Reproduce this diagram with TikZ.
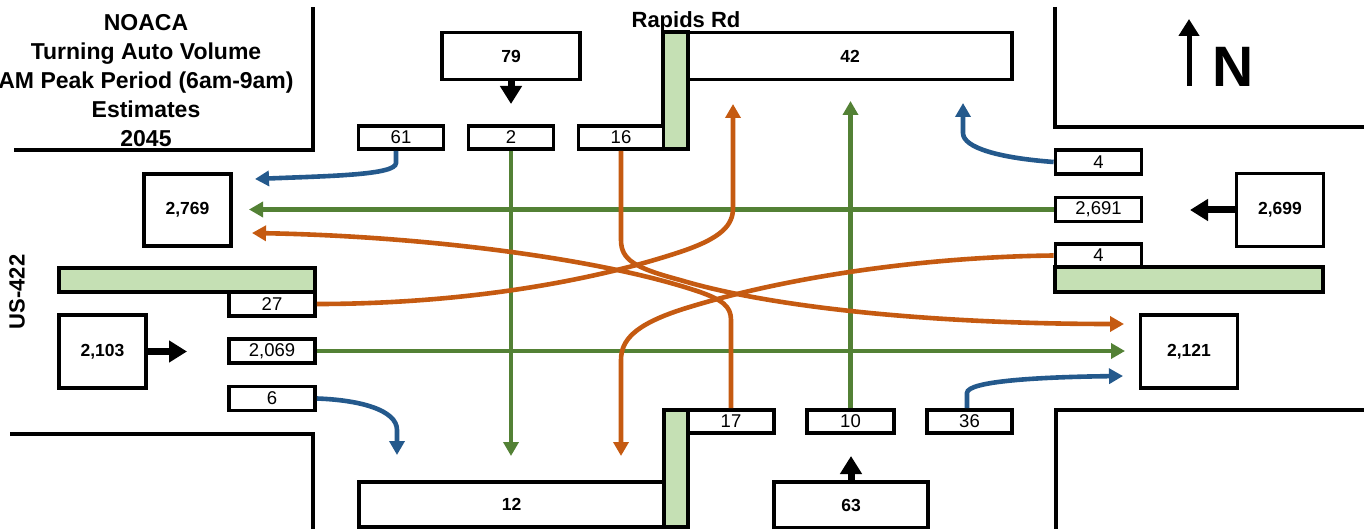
\documentclass[tikz,border=0pt]{standalone}
\usepackage{fontspec}
\setmainfont{Liberation Sans}
\usetikzlibrary{arrows.meta}
\definecolor{fblue}{RGB}{36,89,140}
\definecolor{forange}{RGB}{197,90,17}
\definecolor{fgreen}{RGB}{83,129,53}
\definecolor{lgreen}{RGB}{197,224,180}
\begin{document}
\begin{tikzpicture}[x=1pt,y=-1pt,
  box/.style={draw=black, line width=3.8pt, fill=white, inner sep=0pt, font=\fontsize{18.5}{20}\selectfont},
  bigbox/.style={box, font=\fontsize{17.5}{20}\selectfont\bfseries},
  island/.style={draw=black, line width=3.8pt, fill=lgreen},
  curb/.style={line width=3.8pt, black},
  flow/.style={line width=4.6pt, -{Triangle[length=14pt,width=15pt]}},
  bflow/.style={flow, draw=fblue},
  oflow/.style={flow, draw=forange},
  gflow/.style={flow, draw=fgreen},
  feed/.style={line width=7pt, -{Triangle[length=18pt,width=21pt]}},
  ttl/.style={font=\fontsize{23}{23}\selectfont\bfseries, inner sep=0pt, anchor=base}
]
\useasboundingbox (0,0) rectangle (1364,529);
% curbs
\draw[curb] (14,150) -- (313,150) -- (313,7);
\draw[curb] (1055,7) -- (1055,127) -- (1364,127);
\draw[curb] (10,434) -- (313,434) -- (313,529);
\draw[curb] (1364,410) -- (1056,410) -- (1056,529);
% title
\node[ttl] (t1) at (146,31) {NOACA};
\node[ttl] (t2) at (146,60) {Turning Auto Volume};
\node[ttl] (t3) at (146,89) {AM Peak Period (6am-9am)};
\node[ttl] (t4) at (146,118) {Estimates};
\node[ttl] (t5) at (146,147) {2045};
\node[ttl, font=\fontsize{22}{22}\selectfont\bfseries] (rr) at (686,28) {Rapids Rd};
\node[ttl, anchor=center, rotate=90, font=\fontsize{22}{22}\selectfont\bfseries] (us) at (17,292) {US-422};
\node[ttl, anchor=center, font=\fontsize{57}{57}\selectfont\bfseries] (nn) at (1233,67) {N};
\coordinate (nb) at (1189,86);
\coordinate (nt) at (1189,19);
\draw[line width=5pt, -{Triangle[length=17pt,width=20pt]}] (nb) -- (nt);
% islands
\path[island] (663,32) rectangle (688,149);
\path[island] (1055,267) rectangle (1323,292);
\path[island] (59,268) rectangle (315,292);
\path[island] (664,410) rectangle (688,527);
% boxes
\node[bigbox, minimum width=138, minimum height=47] (b79) at (511,56) {79};
\node[box, minimum width=85, minimum height=23] (b61) at (401,137.5) {61};
\node[box, minimum width=85, minimum height=23] (b2) at (511,137.5) {2};
\node[box, minimum width=85, minimum height=23] (b16) at (621,137.5) {16};
\node[bigbox, minimum width=324, minimum height=47] (b42) at (850,56) {42};
\node[box, minimum width=86, minimum height=24] (e4a) at (1098.5,162) {4};
\node[box, minimum width=86, minimum height=24] (e2691) at (1098.5,209.5) {2,691};
\node[box, minimum width=86, minimum height=23] (e4b) at (1098.5,255.5) {4};
\node[bigbox, minimum width=87, minimum height=73] (b2699) at (1280,210) {2,699};
\node[bigbox, minimum width=97, minimum height=73] (b2121) at (1189,351.5) {2,121};
\node[bigbox, minimum width=87, minimum height=72] (b2769) at (187.5,210) {2,769};
\node[box, minimum width=86, minimum height=24] (w27) at (272,304) {27};
\node[box, minimum width=86, minimum height=24] (w2069) at (272,351) {2,069};
\node[box, minimum width=86, minimum height=24] (w6) at (272,398.5) {6};
\node[bigbox, minimum width=87, minimum height=73] (b2103) at (102.5,351.5) {2,103};
\node[bigbox, minimum width=305, minimum height=45] (b12) at (511.5,504.5) {12};
\node[box, minimum width=86, minimum height=23] (s17) at (731,421.5) {17};
\node[box, minimum width=87, minimum height=23] (s10) at (850.5,421.5) {10};
\node[box, minimum width=85, minimum height=23] (s36) at (969.5,421.5) {36};
\node[bigbox, minimum width=154, minimum height=46] (b63) at (851,505) {63};
% feed arrows
\draw[feed] (b79.south) -- (b79.south |- 0,104);
\draw[feed] (b2699.west) -- (b2699.west -| 1190,0);
\draw[feed] (b2103.east) -- (b2103.east -| 187,0);
\draw[feed] (b63.north) -- (b63.north |- 0,456);
% green through
\draw[gflow] (b2.south) -- (b2.south |- 0,456);
\draw[gflow] (s10.north) -- (s10.north |- 0,101);
\draw[gflow] (e2691.west) -- (e2691.west -| 249,0);
\draw[gflow] (w2069.east) -- (w2069.east -| 1125,0);
% blue right turns
\coordinate (tb1) at (255,179);
\coordinate (tb2) at (963,103);
\coordinate (tb3) at (397,455);
\coordinate (tb4) at (1123,376);
\draw[bflow] ([xshift=-5pt]b61.south) -- (396,163) .. controls (396,175) and (330,176) .. (tb1);
\draw[bflow] (e4a.west) .. controls (1000,158) and (963,148) .. (963,133) -- (tb2);
\draw[bflow] (w6.east) .. controls (360,400) and (397,410) .. (397,430) -- (tb3);
\draw[bflow] ([xshift=-2.5pt]s36.north) -- (967,393) .. controls (967,381) and (1040,377) .. (tb4);
% orange left turns
\coordinate (to1) at (1124,324);
\coordinate (to2) at (252,233);
\coordinate (to3) at (733,104);
\coordinate (to4) at (621,456);
\draw[oflow] (b16.south) -- (621,240) .. controls (621,260) and (635,268) .. (680,280) .. controls (780,310) and (950,324) .. (to1);
\draw[oflow] (s17.north) -- (731,320) .. controls (731,306) and (722,300) .. (700,292) .. controls (600,258) and (420,236) .. (to2);
\draw[oflow] (w27.east) .. controls (450,304) and (580,285) .. (680,252) .. controls (722,238) and (733,225) .. (733,208) -- (to3);
\draw[oflow] (e4b.west) .. controls (920,257) and (780,278) .. (680,310) .. controls (635,325) and (621,340) .. (621,360) -- (to4);
\end{tikzpicture}
\end{document}
